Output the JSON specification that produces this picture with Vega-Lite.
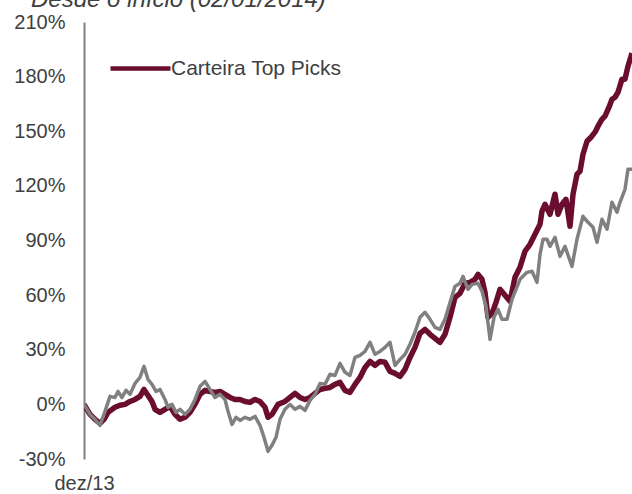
{
  "$schema": "https://vega.github.io/schema/vega-lite/v6.json",
  "width": 548,
  "height": 437,
  "autosize": "none",
  "padding": {"left": 84, "top": 22, "right": 0, "bottom": 35},
  "background": "white",
  "title": {
    "text": "Desde o início (02/01/2014)",
    "font": "Liberation Sans",
    "fontSize": 24,
    "fontStyle": "italic",
    "fontWeight": "normal",
    "color": "#404040",
    "anchor": "start",
    "frame": "group",
    "dx": -53,
    "offset": 0
  },
  "config": {
    "view": {"stroke": null},
    "font": "Liberation Sans"
  },
  "datasets": {
    "carteira": [
      {"d": 0, "v": 0}, {"d": 6, "v": -5.5}, {"d": 11, "v": -8.2}, {"d": 16, "v": -10.4}, {"d": 20, "v": -8.2},
      {"d": 24, "v": -4.4}, {"d": 31, "v": -1.6}, {"d": 36, "v": -0.5}, {"d": 41, "v": 0}, {"d": 46, "v": 1.6},
      {"d": 51, "v": 2.7}, {"d": 56, "v": 4.4}, {"d": 60, "v": 8.2}, {"d": 64, "v": 4.9}, {"d": 68, "v": 1.6},
      {"d": 71, "v": -2.7}, {"d": 76, "v": -4.4}, {"d": 81, "v": -2.7}, {"d": 86, "v": -1.1}, {"d": 91, "v": -5.5},
      {"d": 96, "v": -8.2}, {"d": 101, "v": -7.1}, {"d": 106, "v": -4.4}, {"d": 111, "v": 0}, {"d": 116, "v": 5.5},
      {"d": 121, "v": 7.7}, {"d": 126, "v": 7.1}, {"d": 131, "v": 6.6}, {"d": 136, "v": 7.1}, {"d": 141, "v": 5.5},
      {"d": 146, "v": 3.8}, {"d": 151, "v": 2.7}, {"d": 156, "v": 2.7}, {"d": 161, "v": 1.6}, {"d": 166, "v": 1.1},
      {"d": 171, "v": 2.7}, {"d": 176, "v": 1.6}, {"d": 181, "v": -1.6}, {"d": 184, "v": -7.1}, {"d": 188, "v": -5.5},
      {"d": 194, "v": 0}, {"d": 201, "v": 1.6}, {"d": 206, "v": 3.8}, {"d": 211, "v": 6.0}, {"d": 216, "v": 3.8},
      {"d": 221, "v": 2.7}, {"d": 226, "v": 3.8}, {"d": 231, "v": 6.0}, {"d": 236, "v": 8.2}, {"d": 241, "v": 8.8},
      {"d": 246, "v": 9.3}, {"d": 251, "v": 11.0}, {"d": 256, "v": 12.1}, {"d": 261, "v": 7.7}, {"d": 266, "v": 6.6},
      {"d": 271, "v": 11.0}, {"d": 276, "v": 14.8}, {"d": 281, "v": 20.3}, {"d": 286, "v": 23.6}, {"d": 291, "v": 21.4},
      {"d": 296, "v": 23.6}, {"d": 301, "v": 23.1}, {"d": 306, "v": 18.1}, {"d": 311, "v": 17.0}, {"d": 316, "v": 15.4},
      {"d": 321, "v": 19.2}, {"d": 326, "v": 25.8}, {"d": 331, "v": 31.3}, {"d": 336, "v": 39.0}, {"d": 341, "v": 41.2},
      {"d": 346, "v": 38.5}, {"d": 351, "v": 36.3}, {"d": 356, "v": 34.1}, {"d": 361, "v": 38.5}, {"d": 366, "v": 47.8},
      {"d": 371, "v": 58.8}, {"d": 376, "v": 61.0}, {"d": 381, "v": 66.5}, {"d": 386, "v": 67.0}, {"d": 391, "v": 68.7},
      {"d": 394, "v": 71.4}, {"d": 398, "v": 68.7}, {"d": 401, "v": 61.5}, {"d": 404, "v": 47.8}, {"d": 408, "v": 50.0},
      {"d": 412, "v": 56.0}, {"d": 416, "v": 63.2}, {"d": 421, "v": 59.9}, {"d": 426, "v": 56.6}, {"d": 431, "v": 69.8},
      {"d": 436, "v": 75.3}, {"d": 441, "v": 84.1}, {"d": 446, "v": 87.9}, {"d": 451, "v": 93.4}, {"d": 456, "v": 98.9},
      {"d": 458, "v": 106.1}, {"d": 461, "v": 109.9}, {"d": 466, "v": 104.4}, {"d": 471, "v": 115.4}, {"d": 474, "v": 104.4},
      {"d": 478, "v": 109.9}, {"d": 482, "v": 112.6}, {"d": 486, "v": 97.8}, {"d": 489, "v": 115.4}, {"d": 493, "v": 126.4},
      {"d": 496, "v": 128.0}, {"d": 499, "v": 137.4}, {"d": 503, "v": 144.5}, {"d": 507, "v": 146.7}, {"d": 511, "v": 149.5},
      {"d": 514, "v": 152.8}, {"d": 518, "v": 156.6}, {"d": 521, "v": 158.3}, {"d": 525, "v": 163.2}, {"d": 528, "v": 167.6},
      {"d": 531, "v": 168.7}, {"d": 534, "v": 171.4}, {"d": 538, "v": 178.6}, {"d": 541, "v": 178.6}, {"d": 544, "v": 185.7},
      {"d": 548, "v": 192.9}
    ],
    "indice": [
      {"d": 0, "v": 0}, {"d": 6, "v": -5.5}, {"d": 11, "v": -8.2}, {"d": 16, "v": -11.5}, {"d": 21, "v": -3.8},
      {"d": 26, "v": 4.4}, {"d": 31, "v": 3.8}, {"d": 34, "v": 7.1}, {"d": 38, "v": 3.8}, {"d": 42, "v": 7.7},
      {"d": 46, "v": 5.5}, {"d": 51, "v": 11.5}, {"d": 56, "v": 14.8}, {"d": 60, "v": 20.9}, {"d": 64, "v": 13.7},
      {"d": 68, "v": 11.0}, {"d": 72, "v": 7.1}, {"d": 76, "v": 8.2}, {"d": 81, "v": 2.7}, {"d": 84, "v": -1.6},
      {"d": 88, "v": 0}, {"d": 92, "v": -4.4}, {"d": 96, "v": -2.7}, {"d": 101, "v": -5.5}, {"d": 106, "v": -2.7},
      {"d": 111, "v": 2.7}, {"d": 116, "v": 9.9}, {"d": 121, "v": 12.6}, {"d": 126, "v": 8.2}, {"d": 131, "v": 3.8},
      {"d": 136, "v": 5.5}, {"d": 141, "v": 2.7}, {"d": 144, "v": -3.8}, {"d": 148, "v": -11.0}, {"d": 152, "v": -7.1},
      {"d": 156, "v": -8.8}, {"d": 161, "v": -7.1}, {"d": 166, "v": -8.2}, {"d": 171, "v": -6.6}, {"d": 176, "v": -11.5},
      {"d": 180, "v": -18.1}, {"d": 184, "v": -25.8}, {"d": 188, "v": -22.5}, {"d": 192, "v": -18.1}, {"d": 196, "v": -8.2},
      {"d": 201, "v": -2.7}, {"d": 206, "v": 0}, {"d": 211, "v": -2.7}, {"d": 216, "v": -1.1}, {"d": 221, "v": -3.3},
      {"d": 226, "v": 2.2}, {"d": 231, "v": 5.5}, {"d": 236, "v": 11.5}, {"d": 241, "v": 11.0}, {"d": 246, "v": 16.5},
      {"d": 251, "v": 15.9}, {"d": 256, "v": 22.5}, {"d": 261, "v": 17.6}, {"d": 266, "v": 15.9}, {"d": 271, "v": 25.8},
      {"d": 276, "v": 26.9}, {"d": 281, "v": 29.1}, {"d": 286, "v": 34.1}, {"d": 291, "v": 27.5}, {"d": 296, "v": 29.1},
      {"d": 301, "v": 31.3}, {"d": 306, "v": 34.1}, {"d": 311, "v": 21.4}, {"d": 316, "v": 24.7}, {"d": 321, "v": 27.5},
      {"d": 326, "v": 33.0}, {"d": 331, "v": 39.6}, {"d": 336, "v": 47.8}, {"d": 341, "v": 50.6}, {"d": 346, "v": 46.7},
      {"d": 351, "v": 42.3}, {"d": 356, "v": 41.2}, {"d": 361, "v": 46.7}, {"d": 366, "v": 56.0}, {"d": 371, "v": 64.8},
      {"d": 376, "v": 66.5}, {"d": 379, "v": 70.3}, {"d": 384, "v": 63.2}, {"d": 388, "v": 65.9}, {"d": 394, "v": 66.5},
      {"d": 398, "v": 62.1}, {"d": 402, "v": 53.9}, {"d": 406, "v": 35.7}, {"d": 410, "v": 47.8}, {"d": 414, "v": 52.2},
      {"d": 418, "v": 46.7}, {"d": 423, "v": 46.7}, {"d": 428, "v": 57.7}, {"d": 432, "v": 63.2}, {"d": 436, "v": 68.7},
      {"d": 443, "v": 72.5}, {"d": 448, "v": 73.1}, {"d": 453, "v": 67.0}, {"d": 456, "v": 82.4}, {"d": 459, "v": 90.7},
      {"d": 463, "v": 90.7}, {"d": 466, "v": 86.8}, {"d": 471, "v": 91.8}, {"d": 476, "v": 81.3}, {"d": 481, "v": 86.8},
      {"d": 488, "v": 75.8}, {"d": 493, "v": 90.7}, {"d": 499, "v": 103.3}, {"d": 504, "v": 100.0}, {"d": 509, "v": 97.3},
      {"d": 513, "v": 89.0}, {"d": 518, "v": 101.7}, {"d": 523, "v": 96.2}, {"d": 528, "v": 111.0}, {"d": 533, "v": 105.5},
      {"d": 536, "v": 111.0}, {"d": 541, "v": 118.1}, {"d": 544, "v": 129.1}, {"d": 548, "v": 129.1}
    ],
    "zero": [{"v": 0}]
  },
  "encoding": {
    "x": {
      "field": "d",
      "type": "quantitative",
      "scale": {"domain": [0, 548], "nice": false, "zero": false},
      "axis": {
        "title": null,
        "values": [0],
        "labelExpr": "'dez/13'",
        "grid": false,
        "domain": false,
        "ticks": false,
        "labelFont": "Liberation Sans",
        "labelFontSize": 20,
        "labelColor": "#404040",
        "labelPadding": 14,
        "labelAlign": "center"
      }
    },
    "y": {
      "field": "v",
      "type": "quantitative",
      "scale": {"domain": [-30, 210], "nice": false},
      "axis": {
        "title": null,
        "values": [-30, 0, 30, 60, 90, 120, 150, 180, 210],
        "labelExpr": "datum.value + '%'",
        "grid": false,
        "ticks": false,
        "domainColor": "#808080",
        "domainWidth": 2,
        "labelFont": "Liberation Sans",
        "labelFontSize": 20,
        "labelColor": "#404040",
        "labelPadding": 19
      }
    }
  },
  "layer": [
    {
      "data": {"name": "zero"},
      "mark": {"type": "rule", "color": "#808080", "strokeWidth": 2},
      "encoding": {"y": {"field": "v", "type": "quantitative"}, "x": {"datum": 0}, "x2": {"datum": 548}}
    },
    {
      "data": {"name": "carteira"},
      "mark": {"type": "line", "strokeWidth": 5.5, "strokeJoin": "round", "clip": true},
      "encoding": {
        "color": {
          "datum": "Carteira Top Picks",
          "type": "nominal",
          "scale": {"range": ["#6B0D2F"]},
          "legend": {
            "title": null,
            "orient": "none",
            "legendX": 24,
            "legendY": 14,
            "padding": 0,
            "symbolType": "stroke",
            "symbolSize": 3600,
            "symbolStrokeWidth": 4.5,
            "labelFont": "Liberation Sans",
            "labelFontSize": 21,
            "labelColor": "#404040",
            "labelOffset": -2,
            "labelLimit": 400
          }
        }
      }
    },
    {
      "data": {"name": "indice"},
      "mark": {"type": "line", "strokeWidth": 3.5, "color": "#808080", "strokeJoin": "round", "clip": true},
      "encoding": {}
    }
  ]
}
